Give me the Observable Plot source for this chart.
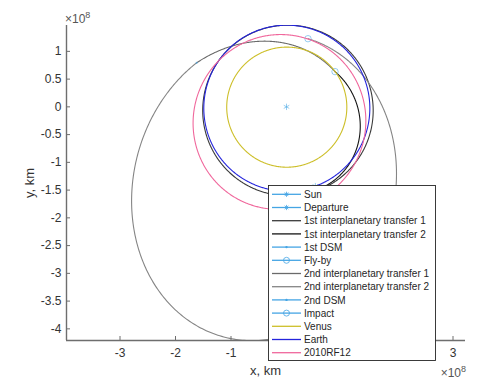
<!DOCTYPE html>
<html>
<head>
<meta charset="utf-8">
<script src="https://cdn.jsdelivr.net/npm/d3@7"></script>
<script src="https://cdn.jsdelivr.net/npm/@observablehq/plot@0.6"></script>
<style>
  html, body { margin: 0; padding: 0; background: #fff; }
  #wrap { position: relative; width: 478px; height: 380px; font-family: "Liberation Sans", Arial, sans-serif; }
  #wrap > svg { position: absolute; left: 0; top: 0; }
  #overlay { pointer-events: none; }
</style>
</head>
<body>
<div id="wrap"></div>
<script>
// ---------------- data (positions in units of 1e8 km) ----------------
const xTicks = [-3, -2, -1, 0, 1, 2, 3];
const xTicksUnderLegend = [0, 1, 2];
const yTicks = [1, 0.5, 0, -0.5, -1, -1.5, -2, -2.5, -3, -3.5, -4];
const xDomain = [-3.964, 3.225];
const yDomain = [-4.21, 1.466];

// heliocentric conic arcs: r = p / (1 + e cos(theta - w)), theta from t0 to t1 (deg)
const orbitNames = ["1st interplanetary transfer 1", "1st interplanetary transfer 2",
                    "2nd interplanetary transfer 1", "2nd interplanetary transfer 2",
                    "Venus", "Earth", "2010RF12"];
const orbitP  = [1.534, 1.159, 1.628, 1.981, 1.082, 1.4956, 1.523];
const orbitE  = [0.0454, 0.272, 0.532, 0.539, 0.0068, 0.0167, 0.19];
const orbitW  = [111.8, 110.4, 53.4, 74.4, 131.0, 102.9, 65.0];
const orbitT0 = [290, -75, 36, 153.9, 0, 0, 0];
const orbitT1 = [645, 36, 153.9, 432.5, 360, 360, 360];

// event points
const pointNames = ["Sun", "Departure", "1st DSM", "Fly-by", "2nd DSM", "Impact"];
const pointX = [0, 0.520, 0.412, 0.874, -1.619, 0.387];
const pointY = [0, -1.429, -1.536, 0.635, 0.793, 1.228];

const legendNames = ["Sun", "Departure", "1st interplanetary transfer 1", "1st interplanetary transfer 2",
  "1st DSM", "Fly-by", "2nd interplanetary transfer 1", "2nd interplanetary transfer 2",
  "2nd DSM", "Impact", "Venus", "Earth", "2010RF12"];

// ---------------- styles ----------------
const LB = "#45a5e4";
const styles = {
  "Sun": {color: LB, marker: "asterisk"},
  "Departure": {color: LB, marker: "asterisk"},
  "1st interplanetary transfer 1": {color: "#3a3a3a"},
  "1st interplanetary transfer 2": {color: "#141414"},
  "1st DSM": {color: LB, marker: "point"},
  "Fly-by": {color: LB, marker: "circle"},
  "2nd interplanetary transfer 1": {color: "#6a6a6a"},
  "2nd interplanetary transfer 2": {color: "#858585"},
  "2nd DSM": {color: LB, marker: "point"},
  "Impact": {color: LB, marker: "circle"},
  "Venus": {color: "#cdbf2a"},
  "Earth": {color: "#2424dc"},
  "2010RF12": {color: "#f0679c"}
};

// ---------------- build orbit tables ----------------
const rad = Math.PI / 180;
function orbitTable(i) {
  const pts = [];
  const n = Math.ceil(Math.abs(orbitT1[i] - orbitT0[i]) / 0.5);
  for (let k = 0; k <= n; k++) {
    const th = orbitT0[i] + (orbitT1[i] - orbitT0[i]) * k / n;
    const r = orbitP[i] / (1 + orbitE[i] * Math.cos((th - orbitW[i]) * rad));
    pts.push({name: orbitNames[i], x: r * Math.cos(th * rad), y: r * Math.sin(th * rad)});
  }
  return pts;
}
const pointsData = pointNames.map((n, i) => ({name: n, x: pointX[i], y: pointY[i]}));

const marks = [];
for (const name of legendNames) {
  const st = styles[name];
  const oi = orbitNames.indexOf(name);
  if (oi >= 0) {
    marks.push(Plot.line(orbitTable(oi), {x: "x", y: "y", stroke: st.color, strokeWidth: 1.1, clip: true}));
  } else {
    const d = pointsData.filter(p => p.name === name);
    if (st.marker === "point") {
      marks.push(Plot.dot(d, {x: "x", y: "y", r: 1.1, fill: st.color, fillOpacity: 0.6, stroke: "none"}));
    } else {
      marks.push(Plot.dot(d, {x: "x", y: "y", r: st.marker === "circle" ? 3.2 : 3, symbol: st.marker,
        stroke: st.color, fill: "none", strokeWidth: 0.8, strokeOpacity: 0.7}));
    }
  }
}

const axisColor = "#6e6e6e";
marks.push(
  Plot.axisX({ticks: xTicks, tickSize: -4, tickPadding: 12,
              tickFormat: d => xTicksUnderLegend.includes(d) ? "" : String(d), label: null,
              fontSize: 12, stroke: axisColor, fill: "#333"}),
  Plot.axisY({ticks: yTicks, tickSize: -4, tickPadding: 9, tickFormat: d => String(d), label: null,
              fontSize: 12, stroke: axisColor, fill: "#333"}),
  Plot.ruleY([yDomain[0]], {stroke: axisColor, strokeWidth: 1.4}),
  Plot.ruleX([xDomain[0]], {stroke: axisColor, strokeWidth: 1.4})
);

const chart = Plot.plot({
  width: 478, height: 380,
  marginLeft: 66, marginRight: 13, marginTop: 25, marginBottom: 40,
  x: {domain: xDomain},
  y: {domain: yDomain},
  style: {fontFamily: "'Liberation Sans', Arial, sans-serif", fontSize: "12px", background: "#fff", color: "#333"},
  marks
});
const wrap = document.getElementById("wrap");
wrap.appendChild(chart);

// ---------------- overlay: axis labels, multipliers, legend ----------------
const ov = d3.select(wrap).append("svg").attr("id", "overlay")
  .attr("width", 478).attr("height", 380)
  .style("font-family", "'Liberation Sans', Arial, sans-serif");

ov.append("text").attr("x", 265.5).attr("y", 375).attr("text-anchor", "middle")
  .attr("font-size", 13).attr("fill", "#333").text("x, km");
ov.append("text").attr("transform", "translate(34,183) rotate(-90)").attr("text-anchor", "middle")
  .attr("font-size", 13).attr("fill", "#333").text("y, km");

function mult(x, y, anchor) {
  const t = ov.append("text").attr("x", x).attr("y", y).attr("text-anchor", anchor)
    .attr("font-size", 12).attr("fill", "#555");
  t.append("tspan").text("×10");
  t.append("tspan").attr("dy", -5).attr("font-size", 9).text("8");
}
mult(65, 23, "start");
mult(466, 376.5, "end");

// legend
const lx = 268.5, ly = 185.5, lw = 167, lh = 175;
ov.append("rect").attr("x", lx).attr("y", ly).attr("width", lw).attr("height", lh)
  .attr("fill", "#fff").attr("stroke", "#262626").attr("stroke-width", 0.9);
legendNames.forEach((name, i) => {
  const st = styles[name];
  const cy = 194.3 + i * 13.2;
  ov.append("line").attr("x1", 272).attr("x2", 301).attr("y1", cy).attr("y2", cy)
    .attr("stroke", st.color).attr("stroke-width", 1.3);
  const mx = 286.5;
  if (st.marker === "asterisk") {
    const s = 2.6;
    ov.append("path").attr("d", `M${mx - s},${cy}H${mx + s}M${mx},${cy - s}V${cy + s}M${mx - s * 0.7},${cy - s * 0.7}L${mx + s * 0.7},${cy + s * 0.7}M${mx - s * 0.7},${cy + s * 0.7}L${mx + s * 0.7},${cy - s * 0.7}`)
      .attr("stroke", st.color).attr("stroke-width", 0.8).attr("fill", "none");
  } else if (st.marker === "circle") {
    ov.append("circle").attr("cx", mx).attr("cy", cy).attr("r", 3)
      .attr("stroke", st.color).attr("stroke-width", 0.8).attr("fill", "none");
  } else if (st.marker === "point") {
    ov.append("circle").attr("cx", mx).attr("cy", cy).attr("r", 1.2).attr("fill", st.color);
  }
  ov.append("text").attr("x", 304).attr("y", cy + 3.6).attr("font-size", 10).attr("fill", "#262626").text(name);
});
</script>
</body>
</html>
